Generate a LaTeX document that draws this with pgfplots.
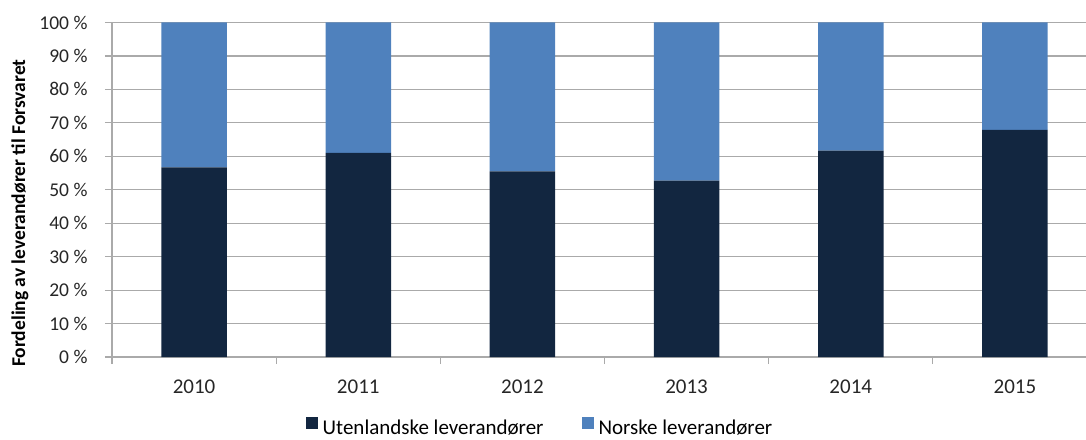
\documentclass[border=0pt]{standalone}
\usepackage{pgfplots}
\pgfplotsset{compat=1.18}
\usepackage{fontspec}
\setmainfont{Carlito}
\definecolor{darkbar}{RGB}{18,38,64}
\definecolor{bluebar}{RGB}{79,129,189}
\definecolor{gridc}{RGB}{170,170,170}
\begin{document}
\begin{tikzpicture}
\begin{axis}[
  at={(0,0)}, anchor=south west,
  scale only axis,
  width=974pt, height=334.5pt,
  ybar stacked,
  bar width=65.5pt,
  xmin=-0.5, xmax=5.433,
  ymin=0, ymax=100,
  axis lines*=left,
  axis line style={gridc, line width=1.2pt},
  ymajorgrids,
  grid style={gridc, line width=1.2pt},
  ytick={0,10,...,100},
  yticklabels={0 \%,10 \%,20 \%,30 \%,40 \%,50 \%,60 \%,70 \%,80 \%,90 \%,100 \%},
  xtick={0,1,2,3,4,5},
  xticklabels={2010,2011,2012,2013,2014,2015},
  minor xtick={-0.5,0.5,1.5,2.5,3.5,4.5},
  tick style={gridc, line width=1.2pt},
  every major x tick/.append style={draw=none},
  tick align=outside,
  major tick length=7pt,
  minor tick length=7pt,
  yticklabel style={font=\fontsize{19.5}{22}\selectfont, text=black!85, xshift=-14pt},
  xticklabel style={font=\fontsize{21}{24}\selectfont, text=black!85, yshift=-12pt},
  ylabel={Fordeling av leverandører til Forsvaret},
  ylabel style={at={(axis description cs:-0.0945,0.43)}, anchor=center, font=\fontsize{19.5}{22}\selectfont\bfseries},
  legend style={at={(axis description cs:0.4394,-0.212)}, anchor=center, draw=none,
    font=\fontsize{21}{24}\selectfont, legend columns=2,
    /tikz/every odd column/.append style={column sep=3pt},
    /tikz/every even column/.append style={column sep=36pt}},
  legend image code/.code={\fill[#1] (0pt,-1pt) rectangle (12pt,11pt);},
]
\addplot[fill=darkbar, draw=none] coordinates {(0,56.7) (1,61.0) (2,55.5) (3,52.7) (4,61.7) (5,67.9)};
\addplot[fill=bluebar, draw=none] coordinates {(0,43.3) (1,39.0) (2,44.5) (3,47.3) (4,38.3) (5,32.1)};
\legend{Utenlandske leverandører, Norske leverandører}
\end{axis}
\pgfresetboundingbox
\path (-112pt,-82pt) rectangle (974pt,357pt);
\end{tikzpicture}
\end{document}
